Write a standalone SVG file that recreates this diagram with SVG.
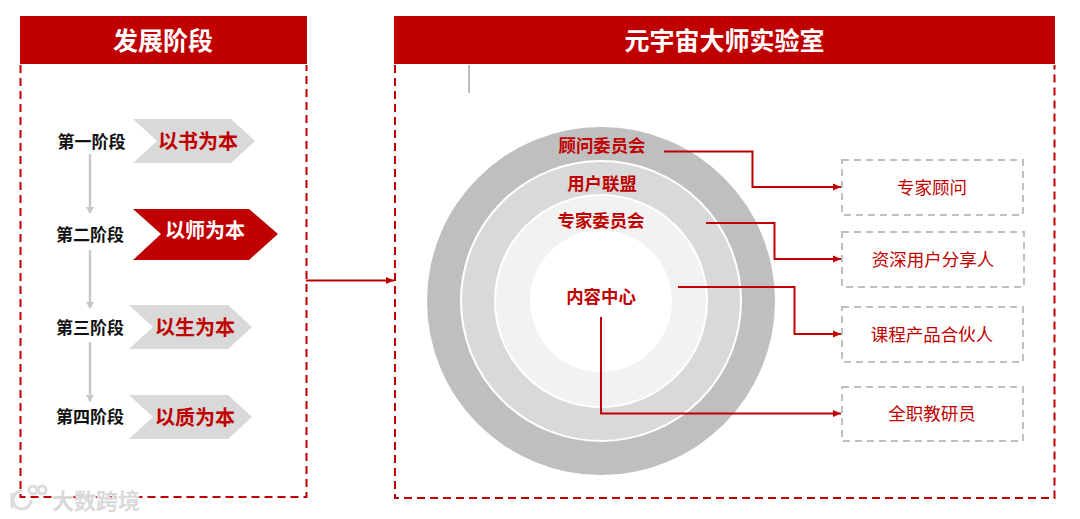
<svg xmlns="http://www.w3.org/2000/svg" width="1080" height="519" viewBox="0 0 1080 519">
<style>
text{font-family:"Noto Sans CJK SC","Liberation Sans",sans-serif;text-anchor:middle;dominant-baseline:central}
.hd{fill:#fff;font-size:25px;font-weight:700}
.st{fill:#111;font-size:17px;font-weight:700}
.ch{fill:#c00000;font-size:20px;font-weight:700}
.chw{fill:#fff;font-size:20px;font-weight:700}
.rg{fill:#c00000;font-size:17.400px;font-weight:700}
.bx{fill:#c00000;font-size:17.500px}
.frame{fill:none;stroke:#c00000;stroke-width:2;stroke-dasharray:8 5}
.box{fill:#fff;stroke:#bfbfbf;stroke-width:2;stroke-dasharray:7 5}
.red{fill:none;stroke:#c00000;stroke-width:2;marker-end:url(#ra)}
.gry{fill:none;stroke:#c8c8c8;stroke-width:2.500;marker-end:url(#ga)}
</style>
<defs>
<marker id="ra" markerUnits="userSpaceOnUse" markerWidth="8" markerHeight="8" refX="8" refY="4" orient="auto"><path d="M0 0.5L8 4L0 7.5z" fill="#c00000"/></marker>
<marker id="ga" markerUnits="userSpaceOnUse" markerWidth="8" markerHeight="8" refX="6" refY="4" orient="auto"><path d="M0 0L7 4L0 8z" fill="#c8c8c8"/></marker>
</defs>
<rect width="1080" height="519" fill="#fff"/>
<g id="panel-left">
<path class="frame" d="M20.500 65V497H306.500V65"/>
<rect x="20" y="16" width="287" height="48" fill="#c00000"/>
<text class="hd" x="163" y="39">发展阶段</text>
</g>
<g id="panel-right">
<path class="frame" d="M395 65V498H1054.500V65"/>
<rect x="394" y="16" width="661" height="48" fill="#c00000"/>
<text class="hd" x="724.500" y="39">元宇宙大师实验室</text>
<path d="M469 65V93" stroke="#a6a6a6" stroke-width="1.500" fill="none"/>
</g>
<g id="stage-1">
<text class="st" x="91.500" y="140">第一阶段</text>
<path d="M133 119H231L255 141L231 163H133L157 141z" fill="#d9d9d9"/>
<text class="ch" x="198" y="140">以书为本</text>
</g>
<g id="stage-2">
<text class="st" x="90" y="233">第二阶段</text>
<path d="M133 209H249L278 234L249 260H133L161 234z" fill="#c00000"/>
<text class="chw" x="205" y="229">以师为本</text>
</g>
<g id="stage-3">
<text class="st" x="90" y="326">第三阶段</text>
<path d="M129 305H228L252 327L228 349H129L153 327z" fill="#d9d9d9"/>
<text class="ch" x="195" y="326">以生为本</text>
</g>
<g id="stage-4">
<text class="st" x="90" y="415">第四阶段</text>
<path d="M129 395H228L252 417L228 439H129L153 417z" fill="#d9d9d9"/>
<text class="ch" x="195" y="416">以质为本</text>
</g>
<g id="rings">
<circle cx="601" cy="301" r="174" fill="#bfbfbf"/>
<circle cx="601" cy="301" r="140" fill="#d9d9d9" stroke="#fff" stroke-width="2"/>
<circle cx="601" cy="301" r="106" fill="#f2f2f2" stroke="#fff" stroke-width="2"/>
<circle cx="601" cy="301" r="71" fill="#fff"/>
<text class="rg" x="602" y="144">顾问委员会</text>
<text class="rg" x="602" y="182">用户联盟</text>
<text class="rg" x="601" y="219">专家委员会</text>
<text class="rg" x="601" y="295">内容中心</text>
</g>
<g id="box-1"><rect class="box" x="842" y="160" width="181" height="55"/><text class="bx" x="932" y="186">专家顾问</text></g>
<g id="box-2"><rect class="box" x="842" y="232" width="182" height="55"/><text class="bx" x="933" y="258">资深用户分享人</text></g>
<g id="box-3"><rect class="box" x="842" y="307" width="181" height="55"/><text class="bx" x="932" y="333">课程产品合伙人</text></g>
<g id="box-4"><rect class="box" x="842" y="387" width="181" height="54"/><text class="bx" x="932" y="412">全职教研员</text></g>
<g id="connectors">
<path class="gry" d="M90 154V213"/>
<path class="gry" d="M90 250V308"/>
<path class="gry" d="M90 342V401"/>
<path class="red" d="M306 280.500H394"/>
<path class="red" d="M664 151.500H752.500V187H841"/>
<path class="red" d="M706 223H774.500V259H841"/>
<path class="red" d="M678 287H794.500V334H841"/>
<path class="red" d="M601 317V413.500H841"/>
</g>
<text x="96" y="499" font-size="22" font-weight="700" style="fill:#d9d9d9;stroke:#fff;stroke-width:1;paint-order:stroke">大数跨境</text>
<g id="watermark-logo" fill="none" stroke="#dcdcdc" stroke-width="3"><path d="M12 493V508"/><path d="M31 500A9 9 0 1 1 22 491"/><circle cx="33" cy="490" r="4"/><circle cx="42" cy="490" r="4"/></g>
</svg>
